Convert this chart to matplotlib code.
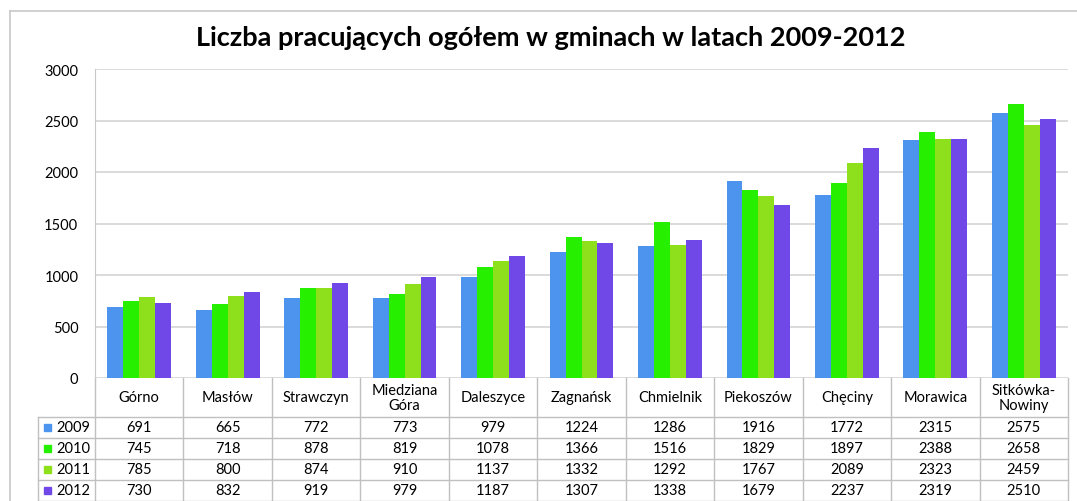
import matplotlib.pyplot as plt
import matplotlib.transforms as mtransforms
import numpy as np

# dane
gminy = ["Górno", "Masłów", "Strawczyn", "Miedziana\nGóra", "Daleszyce", "Zagnańsk",
         "Chmielnik", "Piekoszów", "Chęciny", "Morawica", "Sitkówka-\nNowiny"]
lata = ["2009", "2010", "2011", "2012"]
v2009 = [691, 665, 772, 773, 979, 1224, 1286, 1916, 1772, 2315, 2575]
v2010 = [745, 718, 878, 819, 1078, 1366, 1516, 1829, 1897, 2388, 2658]
v2011 = [785, 800, 874, 910, 1137, 1332, 1292, 1767, 2089, 2323, 2459]
v2012 = [730, 832, 919, 979, 1187, 1307, 1338, 1679, 2237, 2319, 2510]
serie = [v2009, v2010, v2011, v2012]
kolory = ["#4d94ee", "#26f000", "#8ee01c", "#7048e8"]

W, H = 1077, 502
plt.rcParams['font.family'] = ['Lato', 'DejaVu Sans']
fig = plt.figure(figsize=(W / 100, H / 100), dpi=100)

def fx(px):
    return px / W

def fy(py):
    return 1 - py / H

# obramowanie wykresu
fig.add_artist(plt.Line2D([fx(10), fx(10)], [fy(12), 0], transform=fig.transFigure,
                          color="#c8c8c8", lw=1.2))
fig.add_artist(plt.Line2D([fx(10), 1], [fy(12), fy(12)], transform=fig.transFigure,
                          color="#c8c8c8", lw=1.2))

left, right, top, base = 95, 1068, 70, 379
ax = fig.add_axes([fx(left), fy(base), fx(right - left), (base - top) / H])

x = np.arange(len(gminy))
bw = 0.18
for i, (vals, c) in enumerate(zip(serie, kolory)):
    ax.bar(x + (i - 1.5) * bw, vals, width=bw, color=c, zorder=3)

ax.set_xlim(-0.5, len(gminy) - 0.5)
ax.set_ylim(0, 3000)
ax.set_yticks(range(0, 3001, 500))
ax.set_xticks([])
ax.tick_params(axis='y', length=0, pad=12, labelsize=10.5)
ax.grid(axis='y', color="#d4d4d4", lw=1.2, zorder=0)
for s in ["top", "right", "bottom"]:
    ax.spines[s].set_visible(False)
ax.spines["left"].set_color("#c8c8c8")

fig.text(0.511, fy(38), "Liczba pracujących ogółem w gminach w latach 2009-2012",
         ha="center", va="center", fontsize=19.5, fontweight="bold")

# tabela danych
lc = "#c0c0c0"
fs = 10.5
trans = mtransforms.blended_transform_factory(ax.transData, fig.transFigure)
rows_y = [379, 418, 439, 460, 481, 502]
# linie pionowe
for k in range(len(gminy) + 1):
    ax.add_artist(plt.Line2D([k - 0.5, k - 0.5], [fy(379), 0], transform=trans,
                             color=lc, lw=1, clip_on=False))
fig.add_artist(plt.Line2D([fx(38), fx(38)], [fy(418), 0], transform=fig.transFigure,
                          color=lc, lw=1))
# linie poziome
for r in rows_y[1:]:
    fig.add_artist(plt.Line2D([fx(38), fx(right)], [fy(r), fy(r)], transform=fig.transFigure,
                              color=lc, lw=1))

for k, g in enumerate(gminy):
    ax.text(k, fy((rows_y[0] + rows_y[1]) / 2), g, transform=trans, ha="center", va="center",
            fontsize=fs, linespacing=1.05, clip_on=False)
    for j, vals in enumerate(serie):
        yc = fy((rows_y[j + 1] + rows_y[j + 2]) / 2)
        ax.text(k, yc, str(vals[k]), transform=trans, ha="center", va="center",
                fontsize=fs, clip_on=False)

for j, (lab, c) in enumerate(zip(lata, kolory)):
    yc = fy((rows_y[j + 1] + rows_y[j + 2]) / 2)
    fig.add_artist(plt.Rectangle((fx(44), yc - 3.5 / H), 7 / W, 7 / H,
                                 transform=fig.transFigure, color=c))
    fig.text(fx(56), yc, lab, ha="left", va="center", fontsize=fs)

fig.savefig("out.png", dpi=100)
